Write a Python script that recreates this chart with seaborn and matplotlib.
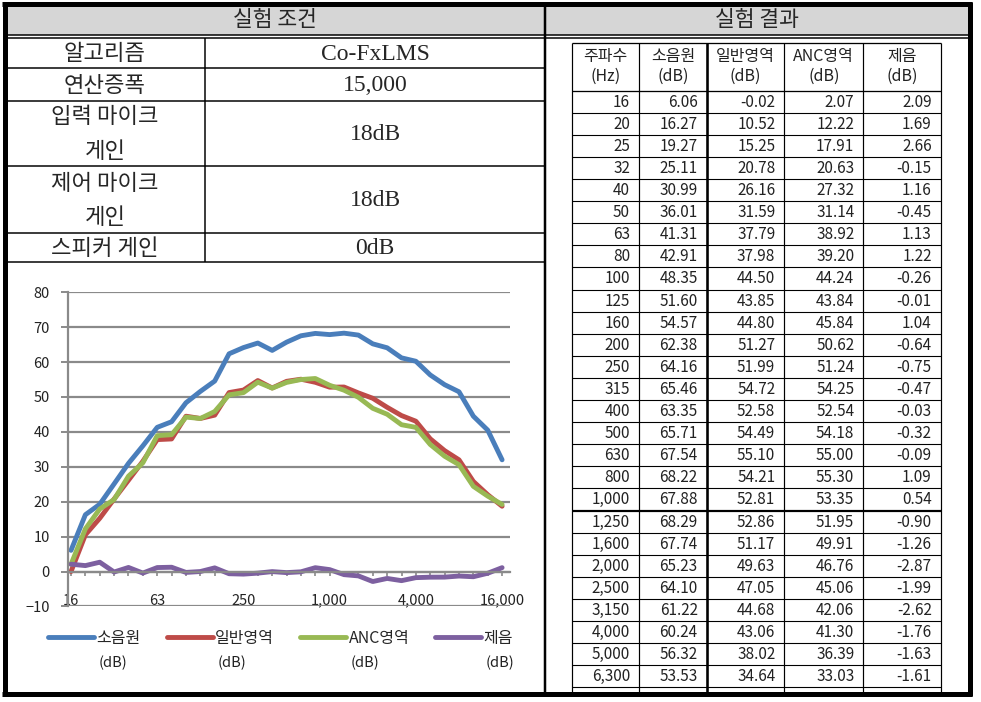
import seaborn as sns
import matplotlib.pyplot as plt
import pandas as pd
from matplotlib.lines import Line2D
from matplotlib.patches import Rectangle

# 1/3 octave bands (chart shows all, table is cut off after 6,300)
freq_labels = ["16", "20", "25", "32", "40", "50", "63", "80", "100", "125", "160",
               "200", "250", "315", "400", "500", "630", "800", "1,000", "1,250",
               "1,600", "2,000", "2,500", "3,150", "4,000", "5,000", "6,300",
               "8,000", "10,000", "12,500", "16,000"]
source_db = [6.06, 16.27, 19.27, 25.11, 30.99, 36.01, 41.31, 42.91, 48.35, 51.60, 54.57,
             62.38, 64.16, 65.46, 63.35, 65.71, 67.54, 68.22, 67.88, 68.29, 67.74, 65.23,
             64.10, 61.22, 60.24, 56.32, 53.53, 51.5, 44.5, 40.5, 32.0]
normal_db = [-0.02, 10.52, 15.25, 20.78, 26.16, 31.59, 37.79, 37.98, 44.50, 43.85, 44.80,
             51.27, 51.99, 54.72, 52.58, 54.49, 55.10, 54.21, 52.81, 52.86, 51.17, 49.63,
             47.05, 44.68, 43.06, 38.02, 34.64, 32.0, 25.8, 22.0, 18.7]
anc_db = [2.07, 12.22, 17.91, 20.63, 27.32, 31.14, 38.92, 39.20, 44.24, 43.84, 45.84,
          50.62, 51.24, 54.25, 52.54, 54.18, 55.00, 55.30, 53.35, 51.95, 49.91, 46.76,
          45.06, 42.06, 41.30, 36.39, 33.03, 30.6, 24.4, 21.6, 19.2]
reduction_db = [2.09, 1.69, 2.66, -0.15, 1.16, -0.45, 1.13, 1.22, -0.26, -0.01, 1.04,
                -0.64, -0.75, -0.47, -0.03, -0.32, -0.09, 1.09, 0.54, -0.90, -1.26, -2.87,
                -1.99, -2.62, -1.76, -1.63, -1.61, -1.3, -1.5, -0.5, 1.1]
n_table_rows = 27

series_names = ["소음원", "일반영역", "ANC영역", "제음"]
series_colors = ["#4a7ebb", "#be4b48", "#98b954", "#7d60a0"]

cond_labels = ["알고리즘", "연산증폭", "입력 마이크\n게인", "제어 마이크\n게인", "스피커 게인"]
cond_values = ["Co-FxLMS", "15,000", "18dB", "18dB", "0dB"]
table_head = ["주파수\n(Hz)", "소음원\n(dB)", "일반영역\n(dB)", "ANC영역\n(dB)", "제음\n(dB)"]

sns.set_theme(style="white")
plt.rcParams["font.family"] = ["Noto Sans CJK KR", "DejaVu Sans"]

W, H = 981, 702
fig = plt.figure(figsize=(W / 100, H / 100), dpi=100)

# background layer in pixel coordinates for the two tables
bg = fig.add_axes([0, 0, 1, 1])
bg.set_xlim(0, W)
bg.set_ylim(H, 0)
bg.axis("off")


def hline(y, x0, x1, px=1.3, c="black"):
    bg.plot([x0, x1], [y, y], color=c, lw=px * 0.72, solid_capstyle="butt")


def vline(x, y0, y1, px=1.3, c="black"):
    bg.plot([x, x], [y0, y1], color=c, lw=px * 0.72, solid_capstyle="butt")


serif = ["Liberation Serif", "DejaVu Serif"]

# header band
bg.add_patch(Rectangle((5, 5), 965, 29.5, color="#d6d6d6", lw=0))
bg.text(275, 20, "실험 조건", ha="center", va="center", fontsize=15.5)
bg.text(757, 20, "실험 결과", ha="center", va="center", fontsize=15.5)
hline(34.5, 5, 970, 1.5)
hline(37.8, 5, 970, 1.5)

# left condition table
row_edges = [38, 68, 100.5, 166, 233, 262]
for y in row_edges[1:]:
    hline(y, 5, 545, 1.5)
vline(205, 38, 262, 1.5)
for i, (lab, val) in enumerate(zip(cond_labels, cond_values)):
    yc = (row_edges[i] + row_edges[i + 1]) / 2 + 1
    bg.text(105, yc, lab, ha="center", va="center", fontsize=16, linespacing=1.65)
    bg.text(375, yc, val, ha="center", va="center", fontsize=17, family=serif)

# right results table
col_edges = [572, 639, 706.7, 784.3, 863.3, 940.7]
top, head_bot, row_h = 43, 90.6, 22.1
hline(top, col_edges[0], col_edges[-1], 1.3)
hline(head_bot, col_edges[0], col_edges[-1], 1.3)
for k in range(1, n_table_rows + 1):
    hline(head_bot + k * row_h, col_edges[0], col_edges[-1], 2.2 if k == 19 else 1.1)
for j, x in enumerate(col_edges):
    vline(x, top, 692, 2.6 if j == 2 else 1.2)
for j, h in enumerate(table_head):
    bg.text((col_edges[j] + col_edges[j + 1]) / 2, (top + head_bot) / 2, h,
            ha="center", va="center", fontsize=11.5, linespacing=1.2, color="#222222")
table_cols = [freq_labels, source_db, normal_db, anc_db, reduction_db]
for i in range(n_table_rows):
    yc = head_bot + (i + 0.5) * row_h
    for j, col in enumerate(table_cols):
        v = col[i]
        s = v if isinstance(v, str) else f"{v:.2f}"
        bg.text(col_edges[j + 1] - 9, yc + 0.5, s, ha="right", va="center",
                fontsize=11, color="#222222")

# outer frame
vline(545, 3, 694, 2.5)
hline(3.5, 2, 972, 5)
hline(694, 2, 972, 5)
vline(4.5, 2, 696, 5)
vline(969.5, 2, 696, 5)

# chart
x0, x1, ytop, ybot = 68, 510, 292.3, 606.4
ax = fig.add_axes([x0 / W, 1 - ybot / H, (x1 - x0) / W, (ybot - ytop) / H])

df = pd.DataFrame({
    "freq": freq_labels * 4,
    "dB": source_db + normal_db + anc_db + reduction_db,
    "series": [s for s in series_names for _ in freq_labels],
})
sns.lineplot(data=df, x="freq", y="dB", hue="series", hue_order=series_names,
             palette=series_colors, sort=False, linewidth=3.5, legend=False, ax=ax)

grid_c = "#8a8a8a"
ax.set_xlim(-0.21, 30.55)
ax.set_ylim(-10, 80)
ax.set_yticks(range(-10, 81, 10))
ax.set_xticks(range(0, 31, 6))
ax.set_xticklabels([freq_labels[i] for i in range(0, 31, 6)])
ax.set_xticks(range(31), minor=True)
ax.yaxis.grid(True, color=grid_c, lw=1.6)
ax.xaxis.grid(False)
ax.set_axisbelow(True)
ax.set_xlabel("")
ax.set_ylabel("")
for s in ["top", "right"]:
    ax.spines[s].set_visible(False)
ax.spines["left"].set_color(grid_c)
ax.spines["left"].set_linewidth(1.6)
ax.spines["bottom"].set_position(("data", 0))
ax.spines["bottom"].set_color(grid_c)
ax.spines["bottom"].set_linewidth(1.6)
ax.tick_params(axis="y", length=5, width=1.4, color=grid_c, pad=8, labelsize=10.5,
               labelcolor="#222222", left=True)
ax.tick_params(axis="x", which="both", length=3, width=1.2, color=grid_c, direction="out",
               bottom=True)
ax.tick_params(axis="x", which="major", pad=13, labelsize=10.5, labelcolor="#222222")
ax.patch.set_alpha(0)

handles = [Line2D([], [], color=c, lw=3.5) for c in series_colors]
leg = fig.legend(handles, series_names, loc="center left",
                 bbox_to_anchor=(48 / W, 1 - 638 / H), ncol=4, frameon=False,
                 fontsize=11.5, handlelength=2.9, handletextpad=0.15, columnspacing=1.6,
                 borderaxespad=0, borderpad=0)

fig.canvas.draw()
for t in leg.get_texts():
    bb = t.get_window_extent()
    fig.text(bb.x0 / W + 2 / W, 1 - 663 / H, "(dB)", ha="left", va="center",
             fontsize=10.5, color="#222222")

fig.savefig("out.png", dpi=100)
